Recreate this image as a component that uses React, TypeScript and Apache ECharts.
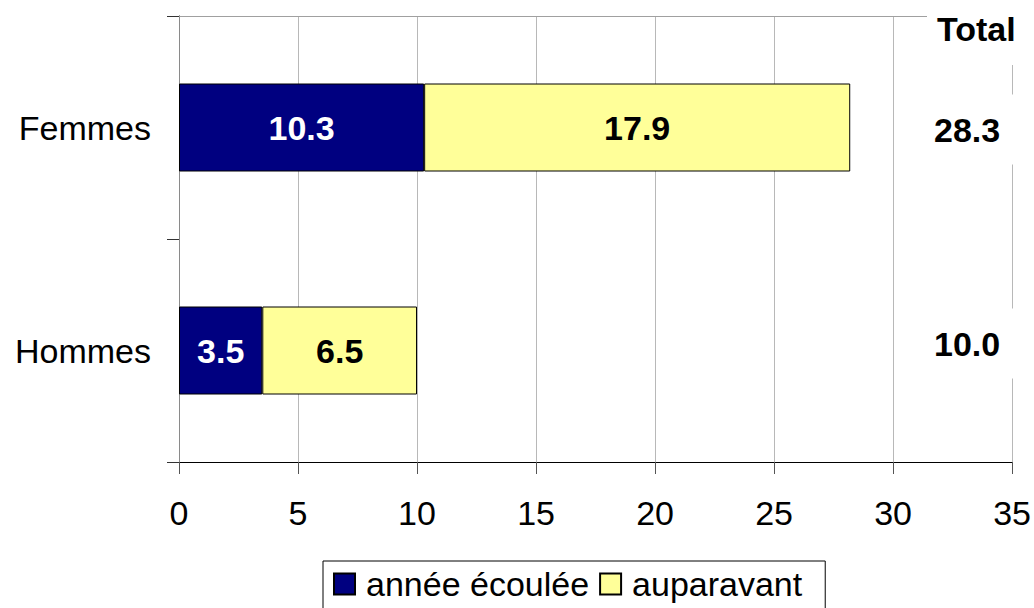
import React, { useEffect, useRef } from "react";
import * as echarts from "echarts";

const categories = ["Femmes", "Hommes"];
const anneeEcoulee = [10.3, 3.5];
const auparavant = [17.9, 6.5];
const totals = [28.3, 10.0];
const seriesNames = ["année écoulée", "auparavant"];
const totalTitle = "Total";
const xMin = 0;
const xMax = 35;
const xInterval = 5;

const FONT = "'Liberation Sans', Arial, sans-serif";
const FS = 34;

export default function App() {
  const ref = useRef<HTMLDivElement>(null);
  useEffect(() => {
    if (!ref.current) return;
    const chart = echarts.init(ref.current, null, { renderer: "svg" });
    const totalOffsets = [
      [-45, 2],
      [-45, -7],
    ];
    chart.setOption({
      animation: false,
      backgroundColor: "#fff",
      textStyle: { fontFamily: FONT },
      title: {
        text: totalTitle,
        left: 927,
        top: 0,
        padding: [12, 14, 19, 10],
        backgroundColor: "#fff",
        textStyle: { fontSize: FS, fontWeight: "bold", color: "#000", fontFamily: FONT },
      },
      grid: { left: 179, right: 21, top: 16, bottom: 146, containLabel: false },
      legend: {
        data: seriesNames,
        left: 323,
        top: 561,
        orient: "horizontal",
        icon: "rect",
        itemWidth: 21,
        itemHeight: 21,
        itemGap: 10,
        padding: [6, 23, 8, 10],
        borderColor: "#000",
        borderWidth: 1,
        backgroundColor: "#fff",
        textStyle: { fontSize: FS, color: "#000", fontFamily: FONT, padding: [0, 0, 0, 6] },
      },
      xAxis: [
        {
          type: "value",
          min: xMin,
          max: xMax,
          interval: xInterval,
          axisLine: { show: true, lineStyle: { color: "#000", width: 1 } },
          axisTick: { show: true, length: 12, lineStyle: { color: "#555" } },
          axisLabel: { fontSize: FS, color: "#000", margin: 34, fontFamily: FONT },
          splitLine: { show: true, lineStyle: { color: "#b8b8b8", width: 1 } },
        },
        {
          type: "value",
          position: "top",
          min: xMin,
          max: xMax,
          interval: xInterval,
          axisLine: { show: true, lineStyle: { color: "#a0a0a0", width: 1 } },
          axisTick: { show: false },
          axisLabel: { show: false },
          splitLine: { show: false },
        },
      ],
      yAxis: [
        {
          type: "category",
          data: categories,
          inverse: true,
          axisLine: { show: true, lineStyle: { color: "#444", width: 1 } },
          axisTick: { show: true, length: 12, lineStyle: { color: "#333" } },
          axisLabel: {
            fontSize: FS,
            color: "#000",
            margin: 28,
            fontFamily: FONT,
            padding: [5, 0, 0, 0],
          },
          splitLine: { show: false },
        },
        {
          type: "category",
          data: categories,
          inverse: true,
          position: "right",
          axisLine: { show: true, lineStyle: { color: "#8a8a8a", width: 1 } },
          axisTick: { show: false },
          axisLabel: { show: false },
          splitLine: { show: false },
        },
      ],
      series: [
        {
          name: seriesNames[0],
          type: "bar",
          stack: "total",
          barWidth: 88,
          data: anneeEcoulee,
          itemStyle: { color: "#000080", borderColor: "#000", borderWidth: 1 },
          label: {
            show: true,
            position: "inside",
            color: "#fff",
            fontSize: FS,
            fontWeight: "bold",
            fontFamily: FONT,
            formatter: (p: any) => Number(p.value).toFixed(1),
          },
        },
        {
          name: seriesNames[1],
          type: "bar",
          stack: "total",
          barWidth: 88,
          data: auparavant,
          itemStyle: { color: "#FFFF99", borderColor: "#000", borderWidth: 1 },
          label: {
            show: true,
            position: "inside",
            color: "#000",
            fontSize: FS,
            fontWeight: "bold",
            fontFamily: FONT,
            formatter: (p: any) => Number(p.value).toFixed(1),
          },
        },
        {
          name: "totals",
          type: "scatter",
          silent: true,
          symbolSize: 1,
          itemStyle: { color: "#fff", opacity: 1 },
          z: 5,
          data: categories.map((c, i) => ({
            value: [xMax, c],
            total: totals[i],
            label: { offset: totalOffsets[i] },
          })),
          label: {
            show: true,
            position: "inside",
            color: "#000",
            fontSize: FS,
            fontWeight: "bold",
            fontFamily: FONT,
            backgroundColor: "#fff",
            padding: [18, 16],
            formatter: (p: any) => Number(p.data.total).toFixed(1),
          },
        },
      ],
    });
    return () => chart.dispose();
  }, []);
  return (
    <div
      ref={ref}
      style={{ position: "fixed", left: 0, top: 0, width: 1034, height: 608 }}
    />
  );
}
